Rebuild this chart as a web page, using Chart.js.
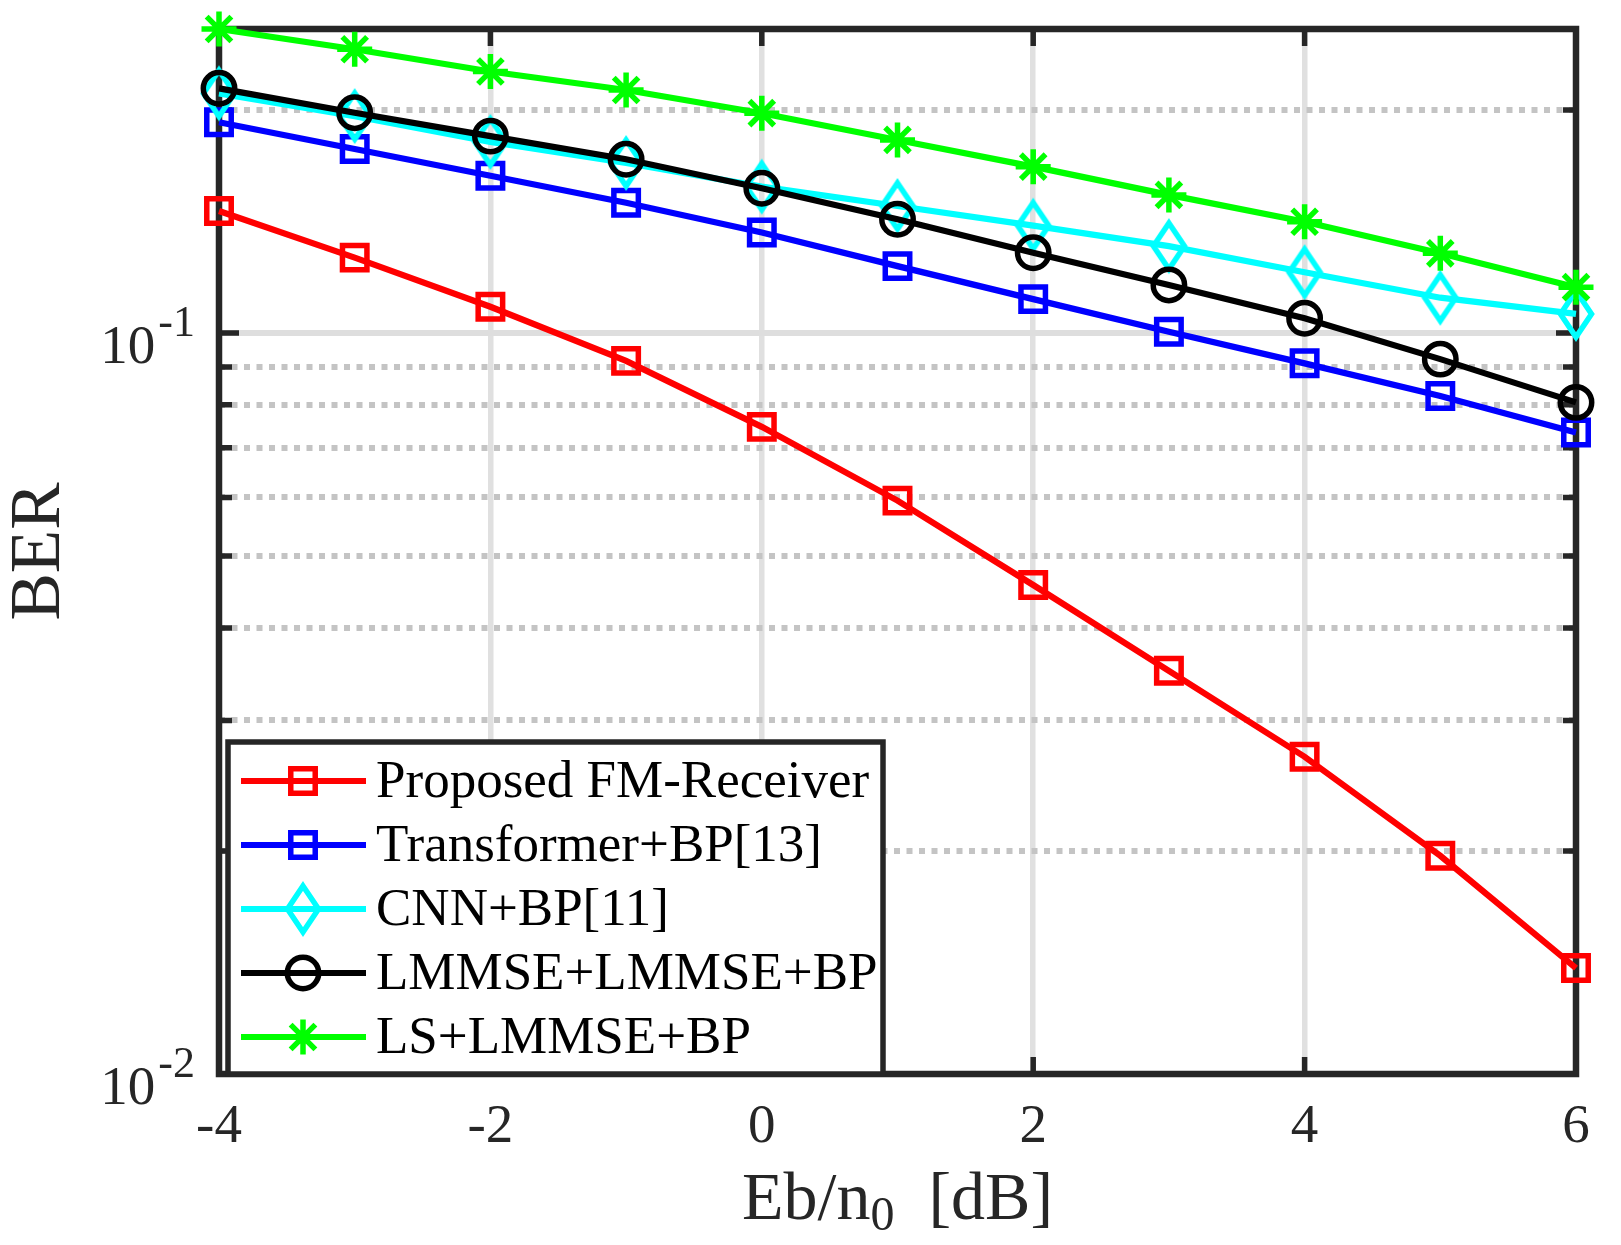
<!DOCTYPE html>
<html>
<head>
<meta charset="utf-8">
<script src="https://cdn.jsdelivr.net/npm/chart.js@4.4.1/dist/chart.umd.min.js"></script>
<style>
  html, body { margin: 0; padding: 0; background: #fff; }
  #wrap { width: 1621px; height: 1245px; }
</style>
</head>
<body>
<div id="wrap"><canvas id="ber" width="1621" height="1245"></canvas></div>
<script>
// x axis: Eb/n0 [dB]
const snr = [-4, -3, -2, -1, 0, 1, 2, 3, 4, 5, 6];

// BER values
const berProposed    = [0.1461, 0.1264, 0.1085, 0.0917, 0.0747, 0.0594, 0.0457, 0.0350, 0.0268, 0.0197, 0.0139];
const berTransformer = [0.1925, 0.1771, 0.1630, 0.1499, 0.1367, 0.1231, 0.1111, 0.1004, 0.0910, 0.0822, 0.0734];
const berCnn         = [0.2106, 0.1962, 0.1811, 0.1696, 0.1576, 0.1484, 0.1396, 0.1310, 0.1208, 0.1116, 0.1061];
const berLmmse       = [0.2139, 0.1983, 0.1844, 0.1716, 0.1568, 0.1424, 0.1283, 0.1161, 0.1047, 0.0922, 0.0806];
const berLs          = [0.2572, 0.2415, 0.2254, 0.2128, 0.1980, 0.1822, 0.1677, 0.1536, 0.1413, 0.1281, 0.1153];

const seriesLabels = ['Proposed FM-Receiver', 'Transformer+BP[13]', 'CNN+BP[11]', 'LMMSE+LMMSE+BP', 'LS+LMMSE+BP'];

// axes
const xMin = -4, xMax = 6, xStep = 2;
const yMin = 0.01, yMax = 0.2572;
const yGridValues = [0.01, 0.02, 0.03, 0.04, 0.05, 0.06, 0.07, 0.08, 0.09, 0.1, 0.2];
const yMajorValues = [0.01, 0.1];
const yLabelExponents = ['-2', '-1'];

const FONT = "'Liberation Serif', 'Times New Roman', serif";
const AXIS_COLOR = '#262626';
const LINE_W = 6.2;   // data lines
const MARK_W = 5.5;   // marker outlines

// MATLAB-like diamond (taller than wide)
function makeDiamond(color) {
    const c = document.createElement('canvas');
    c.width = 44; c.height = 60;
    const g = c.getContext('2d');
    g.strokeStyle = color;
    g.lineWidth = MARK_W;
    g.beginPath();
    g.moveTo(22, 7); g.lineTo(37.5, 30); g.lineTo(22, 53); g.lineTo(6.5, 30);
    g.closePath();
    g.stroke();
    return c;
}

function makeSet(label, data, color, pointStyle, radius, order) {
    return {
        label: label,
        data: snr.map((x, i) => ({x: x, y: data[i]})),
        borderColor: color,
        backgroundColor: 'rgba(0,0,0,0)',
        pointBorderColor: color,
        pointBackgroundColor: 'rgba(0,0,0,0)',
        borderWidth: LINE_W,
        pointBorderWidth: MARK_W,
        pointStyle: pointStyle,
        pointRadius: radius,
        tension: 0,
        fill: false,
        clip: false,
        order: order, // lower order is drawn on top
    };
}

const datasets = [
    makeSet(seriesLabels[0], berProposed, '#ff0000', 'rect', 17.3, 5),
    makeSet(seriesLabels[1], berTransformer, '#0000ff', 'rect', 17.3, 4),
    makeSet(seriesLabels[2], berCnn, '#00ffff', makeDiamond('#00ffff'), 18, 3),
    makeSet(seriesLabels[3], berLmmse, '#000000', 'circle', 15.7, 2),
    makeSet(seriesLabels[4], berLs, '#00ff00', 'star', 17.5, 1),
];

function isMajorY(v) {
    return yMajorValues.includes(v);
}

function drawMarker(ctx, ds, x, y) {
    ctx.save();
    ctx.strokeStyle = ds.pointBorderColor;
    ctx.fillStyle = 'rgba(0,0,0,0)';
    ctx.lineWidth = ds.pointBorderWidth;
    Chart.helpers.drawPoint(ctx, {
        pointStyle: ds.pointStyle, radius: ds.pointRadius,
        borderWidth: ds.pointBorderWidth, rotation: 0,
    }, x, y);
    ctx.restore();
}

// box, inward ticks, labels, titles and legend
const matlabAxes = {
    id: 'matlabAxes',
    beforeDatasetsDraw(chart) {
        const {ctx, chartArea: a, scales: {x, y}} = chart;
        ctx.save();
        ctx.strokeStyle = AXIS_COLOR;
        ctx.lineWidth = 5.5;
        ctx.beginPath();
        x.ticks.forEach(t => {
            const px = x.getPixelForValue(t.value);
            ctx.moveTo(px, a.bottom); ctx.lineTo(px, a.bottom - 17);
            ctx.moveTo(px, a.top); ctx.lineTo(px, a.top + 17);
        });
        y.ticks.forEach(t => {
            const py = y.getPixelForValue(t.value);
            const len = isMajorY(t.value) ? 20 : 13;
            ctx.moveTo(a.left, py); ctx.lineTo(a.left + len, py);
            ctx.moveTo(a.right, py); ctx.lineTo(a.right - len, py);
        });
        ctx.stroke();
        ctx.lineWidth = 6.5;
        ctx.strokeRect(a.left, a.top, a.right - a.left, a.bottom - a.top);
        ctx.restore();
    },
    afterDraw(chart) {
        const {ctx, chartArea: a, scales: {y}} = chart;
        ctx.save();
        ctx.fillStyle = AXIS_COLOR;

        // y tick labels 10^n
        ctx.textAlign = 'right';
        ctx.textBaseline = 'alphabetic';
        yMajorValues.forEach((v, i) => {
            const py = y.getPixelForValue(v);
            const supRight = a.left - 24;
            ctx.font = '44px ' + FONT;
            const supW = ctx.measureText(yLabelExponents[i]).width;
            ctx.fillText(yLabelExponents[i], supRight, py + 3);
            ctx.font = '55px ' + FONT;
            ctx.fillText('10', supRight - supW - 3, py + 30);
        });

        // y title
        ctx.save();
        ctx.translate(59, (a.top + a.bottom) / 2);
        ctx.rotate(-Math.PI / 2);
        ctx.textAlign = 'center';
        ctx.font = '71px ' + FONT;
        ctx.fillText('BER', 0, 0);
        ctx.restore();

        // x title with subscript
        const base = a.bottom + 145;
        const parts = [['Eb/n', 68, 0], ['0', 48, 11], ['  [dB]', 68, 0]];
        let total = 0;
        parts.forEach(p => { ctx.font = p[1] + 'px ' + FONT; total += ctx.measureText(p[0]).width; });
        let cx = (a.left + a.right) / 2 - total / 2;
        ctx.textAlign = 'left';
        parts.forEach(p => {
            ctx.font = p[1] + 'px ' + FONT;
            ctx.fillText(p[0], cx, base + p[2]);
            cx += ctx.measureText(p[0]).width;
        });

        // legend box
        const bx = a.left + 9, bw = 655, bh = 332;
        const by = a.bottom - bh;
        ctx.fillStyle = '#ffffff';
        ctx.fillRect(bx, by, bw, bh);
        ctx.strokeStyle = AXIS_COLOR;
        ctx.lineWidth = 5.5;
        ctx.strokeRect(bx, by, bw, bh);
        ctx.textAlign = 'left';
        ctx.textBaseline = 'middle';
        ctx.font = '53px ' + FONT;
        chart.data.datasets.forEach((ds, i) => {
            const ry = by + 39 + i * 64;
            ctx.strokeStyle = ds.borderColor;
            ctx.lineWidth = ds.borderWidth;
            ctx.beginPath();
            ctx.moveTo(bx + 13, ry); ctx.lineTo(bx + 138, ry);
            ctx.stroke();
            drawMarker(ctx, ds, bx + 75, ry);
            ctx.fillStyle = '#000000';
            ctx.fillText(ds.label, bx + 148, ry + 2);
        });
        ctx.restore();
    }
};

new Chart(document.getElementById('ber'), {
    type: 'line',
    data: {datasets: datasets},
    options: {
        responsive: false,
        animation: false,
        layout: {padding: {top: 29, right: 45, left: 0, bottom: 0}},
        plugins: {legend: {display: false}, tooltip: {enabled: false}},
        scales: {
            x: {
                type: 'linear', min: xMin, max: xMax,
                ticks: {stepSize: xStep, color: AXIS_COLOR, padding: 21, font: {family: FONT, size: 55}},
                grid: {color: '#e0e0e0', lineWidth: 5.5, drawTicks: false},
                border: {display: false},
                afterFit: s => { s.height = 171; },
            },
            y: {
                type: 'logarithmic', min: yMin, max: yMax,
                afterBuildTicks: s => { s.ticks = yGridValues.map(v => ({value: v, major: isMajorY(v)})); },
                ticks: {display: false},
                grid: {
                    color: c => (c.tick && isMajorY(c.tick.value)) ? '#dedede' : '#c4c4c4',
                    lineWidth: c => (c.tick && isMajorY(c.tick.value)) ? 6 : 6,
                    drawTicks: false,
                },
                border: {display: false, dash: c => (c.tick && !isMajorY(c.tick.value)) ? [6, 6.5] : []},
                afterFit: s => { s.width = 219; },
            },
        },
    },
    plugins: [matlabAxes],
});
</script>
</body>
</html>
